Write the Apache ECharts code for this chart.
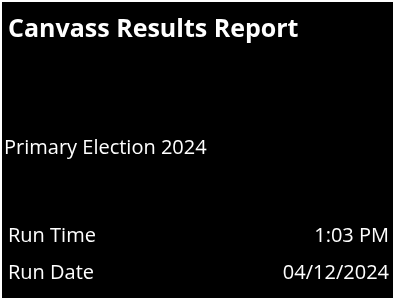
<!DOCTYPE html>
<html>
<head>
<meta charset="utf-8">
<script src="https://cdn.jsdelivr.net/npm/echarts@6/dist/echarts.min.js"></script>
<style>
  html, body { margin: 0; padding: 0; background: #fff; }
  #main { width: 398px; height: 304px; }
</style>
</head>
<body>
<div id="main"></div>
<script>
var reportTitle = 'Canvass Results Report';
var electionName = 'Primary Election 2024';
var infoLabels = ['Run Time', 'Run Date'];
var infoValues = ['1:03 PM', '04/12/2024'];

var font = '"Open Sans", "DejaVu Sans", sans-serif';
var rowTop = [226, 263];

var elements = [
    {
        type: 'rect',
        shape: { x: 2, y: 2, width: 391, height: 296 },
        style: { fill: '#000' }
    },
    {
        type: 'text',
        left: 8, top: 17,
        style: { text: reportTitle, fill: '#fff', font: 'bold 25px ' + font }
    },
    {
        type: 'text',
        left: 4, top: 138,
        style: { text: electionName, fill: '#fff', font: '20px ' + font }
    }
];

for (var i = 0; i < infoLabels.length; i++) {
    elements.push({
        type: 'text',
        left: 8, top: rowTop[i],
        style: { text: infoLabels[i], fill: '#fff', font: '20px ' + font }
    });
    elements.push({
        type: 'text',
        right: 9, top: rowTop[i],
        style: { text: infoValues[i], fill: '#fff', font: '20px ' + font }
    });
}

var myChart = echarts.init(document.getElementById('main'));
myChart.setOption({
    backgroundColor: '#fff',
    animation: false,
    graphic: elements
});
</script>
</body>
</html>
